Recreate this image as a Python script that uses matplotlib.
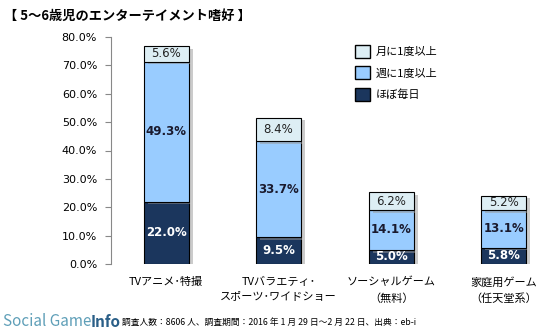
import matplotlib
matplotlib.use("Agg")
import matplotlib.pyplot as plt
import matplotlib.patheffects as pe
from matplotlib.patches import Patch
import numpy as np

plt.rcParams['font.family'] = ['Noto Sans CJK JP', 'DejaVu Sans']

# data
categories = ["TVアニメ･特撮", "TVバラエティ･\nスポーツ･ワイドショー", "ソーシャルゲーム\n（無料）", "家庭用ゲーム\n（任天堂系）"]
daily = [22.0, 9.5, 5.0, 5.8]
weekly = [49.3, 33.7, 14.1, 13.1]
monthly = [5.6, 8.4, 6.2, 5.2]
series_names = ["月に1度以上", "週に1度以上", "ほぼ毎日"]
yticks = [0, 10, 20, 30, 40, 50, 60, 70, 80]

c_dark = "#1b365d"
c_mid = "#99ccff"
c_light = "#ddeef4"

fig = plt.figure(figsize=(5.52, 3.33), dpi=100)
W, H = 552, 333
ax = fig.add_axes([111 / W, (H - 264) / H, (W - 111) / W, (264 - 37) / H])

x = np.arange(len(categories))
shadow = [pe.SimplePatchShadow(offset=(3, -2), shadow_rgbFace="#999999", alpha=0.5), pe.Normal()]
ax.bar(x, daily, width=0.4, color=c_dark, edgecolor="black", linewidth=0.8, path_effects=shadow)
ax.bar(x, weekly, width=0.4, bottom=daily, color=c_mid, edgecolor="black", linewidth=0.8, path_effects=shadow)
bottom3 = [d + w for d, w in zip(daily, weekly)]
ax.bar(x, monthly, width=0.4, bottom=bottom3, color=c_light, edgecolor="black", linewidth=0.8, path_effects=shadow)

for i in range(len(categories)):
    ax.text(x[i], daily[i] / 2, f"{daily[i]:.1f}%", ha="center", va="center",
            color="white", fontsize=8.5, fontweight="bold", family="DejaVu Sans")
    ax.text(x[i], daily[i] + weekly[i] / 2, f"{weekly[i]:.1f}%", ha="center", va="center",
            color="#1a1a2e", fontsize=8.5, fontweight="bold", family="DejaVu Sans")
    ax.text(x[i], bottom3[i] + monthly[i] / 2, f"{monthly[i]:.1f}%", ha="center", va="center",
            color="#222222", fontsize=8.5, family="DejaVu Sans")

ax.set_xlim(-0.49, 3.43)
ax.set_ylim(0, 80)
ax.set_yticks(yticks)
ax.set_yticklabels([f"{v:.1f}%" for v in yticks], fontsize=8, family="DejaVu Sans")
ax.tick_params(axis="y", length=4, color="#888888", pad=6)
ax.set_xticks(x)
ax.set_xticklabels(categories, fontsize=8, linespacing=1.7, va="top")
ax.tick_params(axis="x", length=0, pad=9)
for s in ["top", "right", "bottom"]:
    ax.spines[s].set_visible(False)
ax.spines["left"].set_color("#888888")

handles = [Patch(facecolor=c_light, edgecolor="black"),
           Patch(facecolor=c_mid, edgecolor="black"),
           Patch(facecolor=c_dark, edgecolor="black")]
ax.legend(handles, series_names, loc="upper left", bbox_to_anchor=(0.53, 1.01),
          frameon=False, fontsize=8, handlelength=1.4, handleheight=1.4,
          labelspacing=0.8, handletextpad=0.5)

fig.text(4 / W, 1 - 16 / H, "【 5～6歳児のエンターテイメント嗜好 】", fontsize=9.5,
         fontweight="bold", va="center")
fig.text(3 / W, 1 - 322 / H, "Social Game", fontsize=11, color="#5f9fb8", va="center")
fig.text(91 / W, 1 - 322 / H, "Info", fontsize=11, color="#2a5f88", fontweight="bold", va="center")
fig.text(122 / W, 1 - 322 / H, "調査人数：8606 人、調査期間：2016 年 1 月 29 日～2 月 22 日、出典：eb-i",
         fontsize=6.3, va="center")

fig.savefig("out.png", dpi=100)
